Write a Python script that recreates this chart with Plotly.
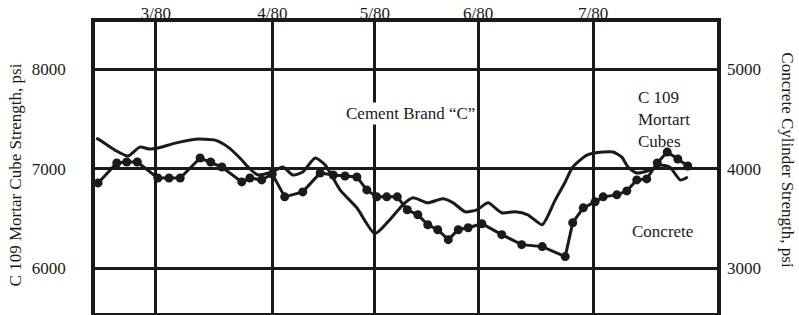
import plotly.graph_objects as go

# Time position across the chart (0 = left edge, 100 = right edge)
month_ticks = [9.8, 28.5, 45.0, 61.6, 80.1]
month_labels = ["3/80", "4/80", "5/80", "6/80", "7/80"]

mortar_t = [0.2, 0.8, 3.2, 5.3, 7.2, 8.8, 10.1, 12.9, 16.1, 19.3, 21.4, 23.3, 24.9,
            26.2, 27.3, 28.5, 30.2, 31.8, 33.4, 35.4, 37.0, 39.4, 42.1, 45.0, 47.4,
            49.5, 51.1, 53.5, 55.9, 57.6, 59.5, 61.4, 63.2, 65.4, 67.5, 69.6, 71.9,
            74.0, 75.6, 76.8, 79.1, 81.7, 83.3, 84.7, 85.7, 87.1, 89.2, 90.8, 92.4,
            94.1, 95.3]
mortar_psi = [7310, 7290, 7190, 7130, 7220, 7200, 7210, 7260, 7300, 7290, 7220, 7110, 7000,
              6940, 6950, 6970, 7020, 6940, 6970, 7110, 7040, 6790, 6610, 6350, 6490,
              6640, 6710, 6660, 6700, 6660, 6570, 6590, 6660, 6560, 6570, 6540, 6440,
              6690, 6870, 7020, 7140, 7170, 7170, 7120, 7020, 6960, 6990, 7040, 7020,
              6890, 6920]

concrete_t = [0.5, 3.5, 5.1, 6.8, 10.1, 11.9, 13.7, 16.9, 18.6, 20.4, 23.6, 24.9, 26.8,
              28.5, 30.5, 33.4, 36.2, 38.3, 40.2, 42.1, 43.7, 45.3, 46.9, 48.6, 50.2,
              51.9, 53.5, 55.1, 56.8, 58.4, 60.0, 62.2, 65.4, 68.6, 71.9, 75.6, 76.8,
              78.5, 80.4, 81.7, 83.9, 85.5, 87.1, 88.7, 90.4, 92.0, 93.7, 95.3]
# concrete plotted against left scale (right scale = left - 3000)
concrete_psi_left = [6860, 7060, 7070, 7070, 6910, 6910, 6910, 7110, 7070, 7020, 6870, 6910, 6890,
                     6950, 6720, 6770, 6960, 6940, 6930, 6920, 6790, 6720, 6720, 6720, 6590,
                     6540, 6440, 6390, 6290, 6390, 6410, 6450, 6340, 6240, 6220, 6120, 6460,
                     6610, 6670, 6720, 6740, 6780, 6890, 6900, 7060, 7170, 7100, 7030]

left_ticks = [6000, 7000, 8000]
right_ticks = [3000, 4000, 5000]
right_offset = 3000
y_range = [5553, 8477]

FONT = "Liberation Serif"
INK = "#1a1a1a"

fig = go.Figure()
fig.add_trace(go.Scatter(x=mortar_t, y=mortar_psi, mode="lines",
                         line=dict(color=INK, width=3, shape="spline", smoothing=0.6),
                         hoverinfo="skip", showlegend=False))
fig.add_trace(go.Scatter(x=concrete_t, y=concrete_psi_left, mode="lines+markers",
                         line=dict(color=INK, width=3),
                         marker=dict(color=INK, size=9),
                         hoverinfo="skip", showlegend=False))
fig.add_trace(go.Scatter(x=[50], y=[4000], yaxis="y2", mode="markers",
                         marker=dict(opacity=0), hoverinfo="skip", showlegend=False))

fig.update_layout(
    width=799, height=315,
    margin=dict(l=95, r=82, t=22, b=2, autoexpand=False),
    paper_bgcolor="white", plot_bgcolor="white",
    font=dict(family=FONT, size=17, color=INK),
    xaxis=dict(range=[0, 100], side="top", tickvals=month_ticks, ticktext=month_labels,
               showgrid=True, gridcolor=INK, gridwidth=2.5, zeroline=False,
               showline=True, mirror=True, linecolor=INK, linewidth=3.5,
               ticks="", ticklabelstandoff=-8, automargin=False,
               tickfont=dict(family=FONT, size=17)),
    yaxis=dict(range=y_range, tickvals=left_ticks, showgrid=True, gridcolor=INK,
               gridwidth=2.5, zeroline=False, showline=True, mirror=True,
               linecolor=INK, linewidth=3.5, ticks="", ticklabelstandoff=22,
               automargin=False, tickfont=dict(family=FONT, size=17)),
    yaxis2=dict(range=[y_range[0] - right_offset, y_range[1] - right_offset],
                tickvals=right_ticks, overlaying="y", side="right", showgrid=False,
                zeroline=False, showline=False, ticks="", ticklabelstandoff=9,
                automargin=False, tickfont=dict(family=FONT, size=17)),
)

fig.add_annotation(x=50.8, y=7560, xref="x", yref="y", text="Cement Brand “C”",
                   showarrow=False, bgcolor="white", font=dict(family=FONT, size=17))
fig.add_annotation(x=87.0, y=7500, xref="x", yref="y", xanchor="left",
                   text="C 109<br>Mortart<br>Cubes", align="left", showarrow=False,
                   font=dict(family=FONT, size=17))
fig.add_annotation(x=91.3, y=6370, xref="x", yref="y", text="Concrete",
                   showarrow=False, font=dict(family=FONT, size=17))
fig.add_annotation(x=-0.128, y=0.474, xref="paper", yref="paper", xanchor="center",
                   text="C 109 Mortar Cube Strength, psi", textangle=-90,
                   showarrow=False, font=dict(family=FONT, size=17))
fig.add_annotation(x=1.114, y=0.525, xref="paper", yref="paper", xanchor="center",
                   text="Concrete Cylinder Strength, psi", textangle=90,
                   showarrow=False, font=dict(family=FONT, size=17))

fig.write_html("out.html", config={"displayModeBar": False},
               post_script="document.body.style.margin='0';document.body.style.padding='0';")
